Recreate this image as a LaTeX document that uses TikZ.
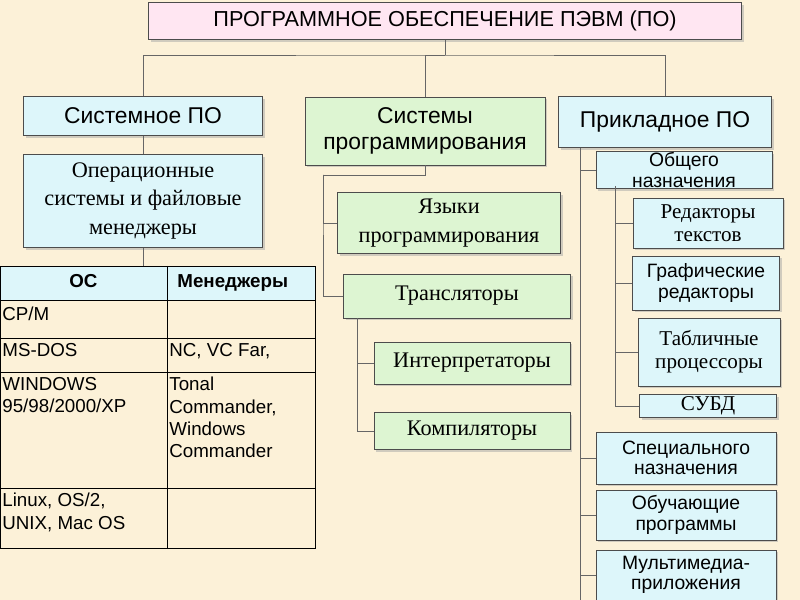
\documentclass[tikz,border=0pt]{standalone}
\usepackage{fontspec}
\setmainfont{Liberation Serif}
\setsansfont{Liberation Sans}
\usetikzlibrary{positioning,shadows}
\definecolor{bgcol}{HTML}{FCF1D8}
\definecolor{cyanbox}{HTML}{DDF6FA}
\definecolor{greenbox}{HTML}{DDF5D2}
\definecolor{pinkbox}{HTML}{FFE6F2}
\tikzset{
  box/.style={draw=black!70,minimum width=#1,inner sep=1pt,align=center,
    drop shadow={shadow xshift=2pt,shadow yshift=-2pt,fill=black!35}},
  cbox/.style={box=#1,fill=cyanbox,font=\sffamily\fontsize{16.5}{17.5}\selectfont},
  cserif/.style={box=#1,fill=cyanbox,font=\fontsize{18}{19.5}\selectfont},
  gbox/.style={box=#1,fill=greenbox,font=\fontsize{19}{21}\selectfont},
  link/.style={draw=black!60,thin},
  cell/.style={font=\sffamily\fontsize{16}{19}\selectfont,anchor=north west,align=left,inner sep=1pt}
}
\begin{document}
\begin{tikzpicture}[x=0.3mm,y=-0.3mm]
  \fill[bgcol] (0,0) rectangle (800,600);
  \useasboundingbox (0,0) rectangle (800,600);

  % top level
  \node[box=178mm,fill=pinkbox,minimum height=11mm,font=\sffamily\fontsize{18.5}{20}\selectfont] (root) at (445,21) {ПРОГРАММНОЕ ОБЕСПЕЧЕНИЕ ПЭВМ (ПО)};
  \node[cbox=71.7mm,minimum height=11.7mm,font=\sffamily\fontsize{19.5}{21}\selectfont] (sys) at (143,116) {Системное ПО};
  \node[box=72mm,fill=greenbox,minimum height=20.4mm,font=\sffamily\fontsize{19.5}{22}\selectfont] (prog) at (425,131) {Системы\\программирования};
  \node[cbox=64mm,minimum height=15.3mm,font=\sffamily\fontsize{19.5}{21}\selectfont] (appl) at (665,122) {Прикладное ПО};

  \coordinate (split) at (445,55);
  \draw[link] (root.south) -- (split);
  \draw[link] (sys.north) |- (split) -| (appl.north);
  \draw[link] (split) -| (prog.north);

  % system software
  \node[cserif=71.7mm,minimum height=27.9mm,font=\fontsize{19}{24}\selectfont] (os) at (143,201) {Операционные\\системы и файловые\\менеджеры};
  \draw[link] (sys.south) -- (os.north);

  % programming systems
  \node[gbox=67mm,minimum height=18.3mm,font=\fontsize{19}{25}\selectfont] (lang) at (449,223) {Языки\\программирования};
  \node[gbox=68mm,minimum height=13.2mm] (trans) at (457,296) {Трансляторы};
  \node[gbox=58.8mm,minimum height=12.6mm] (interp) at (472,363) {Интерпретаторы};
  \node[gbox=58.8mm,minimum height=11.1mm] (comp) at (472,431) {Компиляторы};
  \coordinate (pv) at (323,175);
  \draw[link] (prog.south) -- ++(0,10) -| (pv) |- (trans.west);
  \draw[link] (pv) |- (lang.west);
  \coordinate (tv) at (357,318);
  \draw[link] (tv) |- (comp.west);
  \draw[link] (tv) |- (interp.west);

  % application software
  \node[cbox=52.8mm,minimum height=9.3mm] (gen) at (684,170) {Общего\\назначения};
  \node[cserif=45mm,minimum height=15mm] (ted) at (708,223) {Редакторы\\текстов};
  \node[cbox=44.1mm,minimum height=16.2mm] (ged) at (706,283) {Графические\\редакторы};
  \node[cserif=42.6mm,minimum height=20.4mm] (tab) at (709,352) {Табличные\\процессоры};
  \node[cserif=41.1mm,minimum height=6.9mm] (db) at (708,406) {СУБД};
  \node[cbox=54mm,minimum height=15.6mm] (spec) at (686,458) {Специального\\назначения};
  \node[cbox=54mm,minimum height=15mm] (edu) at (686,515) {Обучающие\\программы};
  \node[cbox=54mm,minimum height=15mm] (mm) at (686,575) {Мультимедиа-\\приложения};
  \coordinate (av) at (580,600);
  \draw[link] (appl.south -| av) -- (av);
  \foreach \n in {gen,spec,edu,mm} \draw[link] (\n.west -| av) -- (\n.west);
  \coordinate (gv) at (615,186);
  \draw[link] (gv) |- (db.west);
  \foreach \n in {ted,ged,tab} \draw[link] (\n.west -| gv) -- (\n.west);

  % table of systems
  \fill[cyanbox] (0,266) rectangle (315,300);
  \draw[black] (0,266) rectangle (315,548);
  \draw[black] (167,266) -- (167,548);
  \foreach \y in {300,338,372,488} \draw[black] (0,\y) -- (315,\y);
  \draw[link] (os.south) -- (143,266);
  \node[cell,font=\sffamily\bfseries\fontsize{16}{19}\selectfont] (hos) at (68,273) {ОС};
  \node[cell,font=\sffamily\bfseries\fontsize{16}{19}\selectfont] (hman) at (176,273) {Менеджеры};
  \node[cell] (cpm) at (1,306) {CP/M};
  \node[cell] (msdos) at (1,342) {MS-DOS};
  \node[cell] (nc) at (168,342) {NC, VC Far,};
  \node[cell] (win) at (1,376) {WINDOWS\\95/98/2000/XP};
  \node[cell] (tc) at (168,376) {Tonal\\Commander,\\Windows\\Commander};
  \node[cell] (linux) at (1,492) {Linux, OS/2,\\UNIX, Mac OS};
\end{tikzpicture}
\end{document}
